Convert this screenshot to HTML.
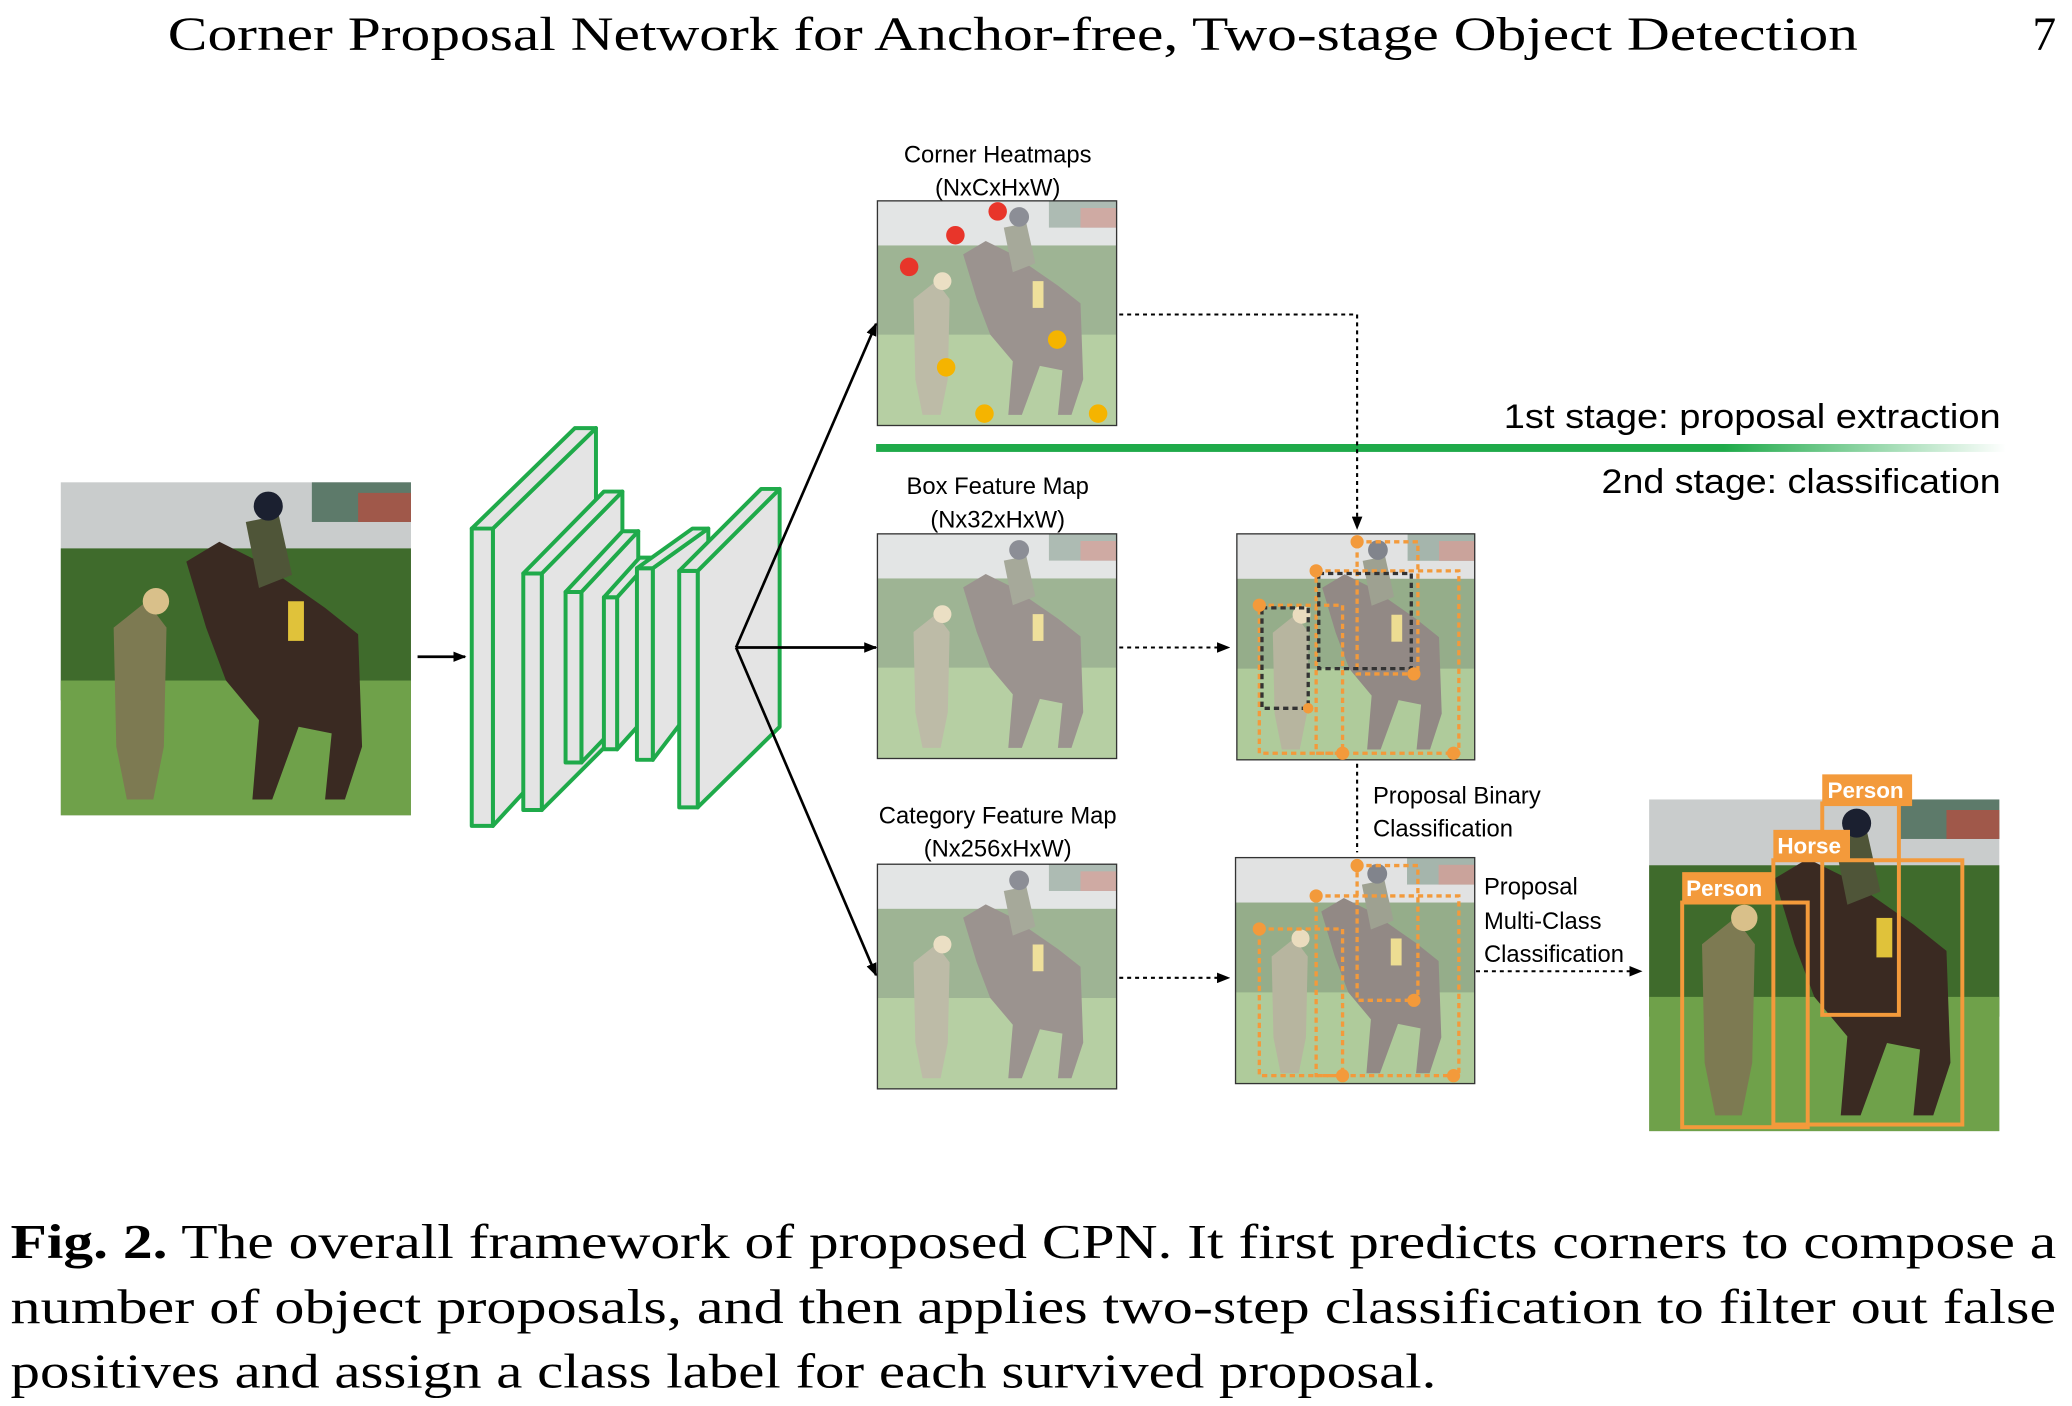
<!DOCTYPE html>
<html><head><meta charset="utf-8"><style>
html,body{margin:0;padding:0;background:#fff;}
svg{display:block;}
.s{font-family:"Liberation Sans","DejaVu Sans",sans-serif;}
.r{font-family:"Liberation Serif",serif;}
</style></head><body>
<svg width="2072" height="1406" viewBox="0 0 1568 1064" preserveAspectRatio="none" xmlns="http://www.w3.org/2000/svg">
<defs>
<linearGradient id="gl" x1="0" x2="1"><stop offset="0" stop-color="#1faa4a"/><stop offset="0.75" stop-color="#1faa4a"/><stop offset="1" stop-color="#1faa4a" stop-opacity="0"/></linearGradient>
<marker id="ah" markerWidth="10" markerHeight="8" refX="9" refY="4" orient="auto" markerUnits="userSpaceOnUse"><path d="M0,0 L10,4 L0,8 Z" fill="#000"/></marker>
<g id="photo">
<rect x="0" y="0" width="265" height="252" fill="#c9cccc"/>
<rect x="190" y="0" width="75" height="30" fill="#5d7a6a"/>
<rect x="225" y="8" width="40" height="22" fill="#a0584a"/>
<rect x="0" y="50" width="265" height="115" fill="#3f6b2c"/>
<rect x="0" y="150" width="265" height="102" fill="#6fa14a"/>
<path d="M95,60 L120,45 L150,60 L200,95 L225,115 L228,200 L215,240 L200,240 L205,190 L180,185 L160,240 L145,240 L150,180 L125,150 L110,110 Z" fill="#3a2a22"/>
<path d="M40,110 L65,90 L80,110 L78,200 L70,240 L50,240 L42,200 Z" fill="#7d7a52"/>
<circle cx="72" cy="90" r="10" fill="#d9c08a"/>
<path d="M140,30 L165,25 L175,70 L150,80 Z" fill="#4f5538"/>
<circle cx="157" cy="18" r="11" fill="#1b2030"/>
<rect x="172" y="90" width="12" height="30" fill="#e0c23a"/>
</g>
</defs>
<rect width="1568" height="1064" fill="#fff"/>
<text class="r" x="127" y="38" font-size="36" textLength="1279" lengthAdjust="spacingAndGlyphs">Corner Proposal Network for Anchor-free, Two-stage Object Detection</text>
<text class="r" x="1556" y="38" font-size="36" text-anchor="end">7</text>

<use href="#photo" x="46" y="365"/>
<line x1="316" y1="497" x2="352" y2="497" stroke="#000" stroke-width="2" marker-end="url(#ah)"/>

<g stroke="#1faa4a" stroke-width="3" fill="#e4e4e4" stroke-linejoin="round">
<polygon points="373,400 451,324 451,540 373,625"/><rect x="357" y="400" width="16" height="225"/><polygon points="357,400 435,324 451,324 373,400"/>
<polygon points="410,434 471,372 471,552 410,613"/><rect x="396" y="434" width="14" height="179"/><polygon points="396,434 457,372 471,372 410,434"/>
<polygon points="440,448 483,402 483,532 440,577"/><rect x="428" y="448" width="12" height="129"/><polygon points="428,448 471,402 483,402 440,448"/>
<polygon points="467,452 494,422 494,537 467,567"/><rect x="457" y="452" width="10" height="115"/><polygon points="457,452 484,422 494,422 467,452"/>
<polygon points="494,430 536,400 536,520 494,575"/><rect x="482" y="430" width="12" height="145"/><polygon points="482,430 524,400 536,400 494,430"/>
<polygon points="528,432 590,370 590,550 528,611"/><rect x="514" y="432" width="14" height="179"/><polygon points="514,432 576,370 590,370 528,432"/>
</g>
<g stroke="#000" stroke-width="2" fill="none">
<line x1="557" y1="490" x2="663" y2="245" marker-end="url(#ah)"/>
<line x1="557" y1="490" x2="663" y2="490" marker-end="url(#ah)"/>
<line x1="557" y1="490" x2="663" y2="738" marker-end="url(#ah)"/>
</g>

<g class="s" font-size="18" text-anchor="middle">
<text x="755" y="123">Corner Heatmaps</text><text x="755" y="148">(NxCxHxW)</text>
<text x="755" y="374">Box Feature Map</text><text x="755" y="399">(Nx32xHxW)</text>
<text x="755" y="623">Category Feature Map</text><text x="755" y="648">(Nx256xHxW)</text>
</g>

<g opacity="0.5"><use href="#photo" transform="translate(664,152) scale(0.683,0.675)"/></g>
<rect x="664" y="152" width="181" height="170" fill="none" stroke="#333"/>
<g>
<circle cx="755" cy="160" r="7" fill="#e8352a"/><circle cx="723" cy="178" r="7" fill="#e8352a"/><circle cx="688" cy="202" r="7" fill="#e8352a"/>
<circle cx="716" cy="278" r="7" fill="#f5b400"/><circle cx="800" cy="257" r="7" fill="#f5b400"/><circle cx="745" cy="313" r="7" fill="#f5b400"/><circle cx="831" cy="313" r="7" fill="#f5b400"/>
</g>
<g opacity="0.5"><use href="#photo" transform="translate(664,404) scale(0.683,0.675)"/></g>
<rect x="664" y="404" width="181" height="170" fill="none" stroke="#333"/>
<g opacity="0.5"><use href="#photo" transform="translate(664,654) scale(0.683,0.675)"/></g>
<rect x="664" y="654" width="181" height="170" fill="none" stroke="#333"/>

<rect x="663" y="336" width="855" height="6" fill="url(#gl)"/>
<g class="s" font-size="26">
<text x="1138" y="324" textLength="376" lengthAdjust="spacingAndGlyphs">1st stage: proposal extraction</text>
<text x="1212" y="373" textLength="302" lengthAdjust="spacingAndGlyphs">2nd stage: classification</text>
</g>

<g stroke="#000" stroke-width="1.6" stroke-dasharray="3,3" fill="none">
<polyline points="847,238 1027,238 1027,400" marker-end="url(#ah)"/>
<line x1="847" y1="490" x2="930" y2="490" marker-end="url(#ah)"/>
<line x1="847" y1="740" x2="930" y2="740" marker-end="url(#ah)"/>
<line x1="1027" y1="578" x2="1027" y2="645"/>
<line x1="1117" y1="735" x2="1242" y2="735" marker-end="url(#ah)"/>
</g>

<g opacity="0.55"><use href="#photo" transform="translate(936,404) scale(0.68,0.68)"/></g>
<rect x="936" y="404" width="180" height="171" fill="none" stroke="#333"/>
<g fill="none" stroke-width="2.5" stroke-dasharray="4,3">
<rect x="1027" y="410" width="46" height="100" stroke="#f39a3b"/>
<rect x="996" y="432" width="108" height="138" stroke="#f39a3b"/>
<rect x="953" y="458" width="63" height="112" stroke="#f39a3b"/>
<rect x="955" y="460" width="35" height="76" stroke="#333"/>
<rect x="998" y="434" width="70" height="72" stroke="#333"/>
</g>
<g fill="#f39a3b"><circle cx="1027" cy="410" r="5"/><circle cx="996" cy="432" r="5"/><circle cx="953" cy="458" r="5"/><circle cx="1070" cy="510" r="5"/><circle cx="1016" cy="570" r="5"/><circle cx="1100" cy="570" r="5"/><circle cx="990" cy="536" r="4"/></g>

<g opacity="0.55"><use href="#photo" transform="translate(935,649) scale(0.683,0.68)"/></g>
<rect x="935" y="649" width="181" height="171" fill="none" stroke="#333"/>
<g fill="none" stroke-width="2.5" stroke-dasharray="4,3" stroke="#f39a3b">
<rect x="1027" y="655" width="46" height="102"/>
<rect x="996" y="678" width="108" height="136"/>
<rect x="953" y="703" width="63" height="111"/>
</g>
<g fill="#f39a3b"><circle cx="1027" cy="655" r="5"/><circle cx="996" cy="678" r="5"/><circle cx="953" cy="703" r="5"/><circle cx="1070" cy="757" r="5"/><circle cx="1016" cy="814" r="5"/><circle cx="1100" cy="814" r="5"/></g>

<g class="s" font-size="18">
<text x="1039" y="608">Proposal Binary</text><text x="1039" y="633">Classification</text>
<text x="1123" y="677">Proposal</text><text x="1123" y="703">Multi-Class</text><text x="1123" y="728">Classification</text>
</g>

<use href="#photo" transform="translate(1248,605) scale(1,0.996)"/>
<g fill="none" stroke="#f39a3b" stroke-width="3">
<rect x="1379" y="608" width="58" height="160"/>
<rect x="1342" y="651" width="143" height="200"/>
<rect x="1273" y="683" width="95" height="170"/>
</g>
<g fill="#f39a3b"><rect x="1379" y="586" width="68" height="24"/><rect x="1342" y="628" width="58" height="24"/><rect x="1273" y="660" width="68" height="24"/></g>
<g class="s" font-size="17" font-weight="bold" fill="#fff">
<text x="1383" y="604">Person</text><text x="1345" y="646">Horse</text><text x="1276" y="678">Person</text>
</g>

<g class="r" font-size="37">
<text x="8" y="952" textLength="1548" lengthAdjust="spacingAndGlyphs"><tspan font-weight="bold">Fig. 2.</tspan> The overall framework of proposed CPN. It first predicts corners to compose a</text>
<text x="8" y="1001" textLength="1548" lengthAdjust="spacingAndGlyphs">number of object proposals, and then applies two-step classification to filter out false</text>
<text x="8" y="1050" textLength="1079" lengthAdjust="spacingAndGlyphs">positives and assign a class label for each survived proposal.</text>
</g>
</svg>
</body></html>
